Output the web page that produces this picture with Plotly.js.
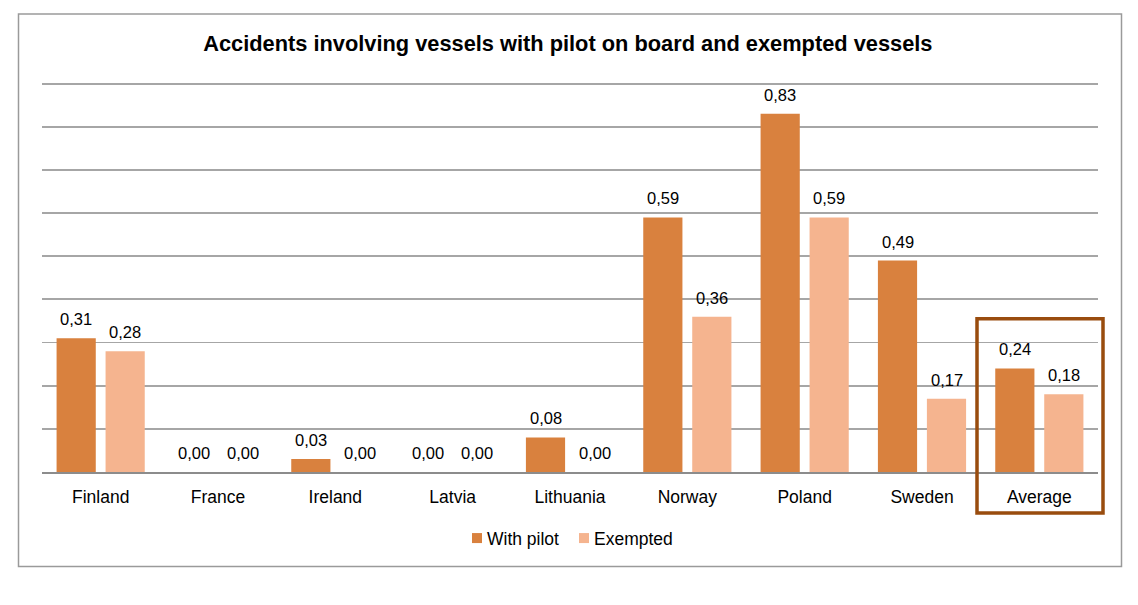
<!DOCTYPE html>
<html>
<head>
<meta charset="utf-8">
<script src="https://cdn.plot.ly/plotly-3.0.1.min.js"></script>
<style>
html,body{margin:0;padding:0;background:#ffffff;}
#chart{width:1138px;height:605px;}
</style>
</head>
<body>
<div id="chart"></div>
<script>
const categories = ["Finland","France","Ireland","Latvia","Lithuania","Norway","Poland","Sweden","Average"];
const withPilot = [0.31,0.00,0.03,0.00,0.08,0.59,0.83,0.49,0.24];
const exempted  = [0.28,0.00,0.00,0.00,0.00,0.36,0.59,0.17,0.18];
const seriesNames = ["With pilot","Exempted"];
const colors = ["#d9813e","#f5b48f"];

const fmt = v => v.toFixed(2).replace('.', ',');
const FONT = '"Liberation Sans", Arial, sans-serif';

const traces = [withPilot, exempted].map((vals, i) => ({
  type: 'bar',
  name: seriesNames[i],
  x: categories,
  y: vals,
  marker: {color: colors[i], line: {width: 0}},
  hoverinfo: 'x+y'
}));

const annotations = [];
[withPilot, exempted].forEach((vals, i) => {
  vals.forEach((v, j) => {
    annotations.push({
      x: categories[j], y: v, xref: 'x', yref: 'y',
      text: fmt(v), showarrow: false,
      xshift: i === 0 ? -24.5 : 24.5, yshift: 19,
      yanchor: 'middle', xanchor: 'center',
      font: {family: FONT, size: 16.5, color: '#000'}
    });
  });
});

// axis: gridlines every 0.1 up to 0.9; range padded so the 0.9 line is drawn
const YMAX = 0.92;
const PXU = 431.1;                 // pixels per unit
const L = 42, R = 1098, B = 472;
const T = B - YMAX * PXU;
const px = x => (x - L) / (R - L);
const py = y => (B - y) / (B - T);

const legendX = [472, 579];
const shapes = [
  {type: 'rect', xref: 'paper', yref: 'paper', layer: 'below',
   x0: px(18.5), x1: px(1121.5), y0: py(566.5), y1: py(14.5),
   line: {color: '#9a9a9a', width: 1.5}, fillcolor: '#ffffff'},
  {type: 'rect', xref: 'paper', yref: 'paper', layer: 'above',
   x0: px(977), x1: px(1103), y0: py(513), y1: py(319),
   line: {color: '#994c0e', width: 3.5}, fillcolor: 'rgba(0,0,0,0)'}
];
seriesNames.forEach((name, i) => {
  shapes.push({type: 'rect', xref: 'paper', yref: 'paper',
    x0: px(legendX[i]), x1: px(legendX[i] + 10), y0: py(543), y1: py(533),
    line: {width: 0}, fillcolor: colors[i]});
  annotations.push({xref: 'paper', yref: 'paper', x: px(legendX[i] + 13), y: py(538.5),
    xanchor: 'left', yanchor: 'middle', showarrow: false, text: name,
    font: {family: FONT, size: 17.5, color: '#000'}});
});

const layout = {
  width: 1138, height: 605,
  margin: {l: L, r: 1138 - R, t: T, b: 605 - B, pad: 0},
  paper_bgcolor: '#ffffff',
  plot_bgcolor: 'rgba(0,0,0,0)',
  font: {family: FONT, size: 17.5, color: '#000'},
  title: {
    text: '<b>Accidents involving vessels with pilot on board and exempted vessels</b>',
    font: {family: FONT, size: 21.8, color: '#000'},
    x: 0.499, xanchor: 'center', xref: 'container',
    y: 1 - 43.5 / 605, yanchor: 'middle', yref: 'container'
  },
  barmode: 'group',
  bargap: 0.165,
  bargroupgap: 0.2,
  showlegend: false,
  xaxis: {
    type: 'category',
    showgrid: false, zeroline: false,
    showline: true, linecolor: '#8c8c8c', linewidth: 2,
    ticks: '', ticklabelstandoff: 8,
    tickfont: {family: FONT, size: 17.5, color: '#000'},
    fixedrange: true
  },
  yaxis: {
    range: [0, YMAX], tickvals: [0.1,0.2,0.3,0.4,0.5,0.6,0.7,0.8,0.9],
    showgrid: true, gridcolor: '#a6a6a6', gridwidth: 1.8,
    showticklabels: false, zeroline: false, showline: false, ticks: '',
    fixedrange: true
  },
  annotations: annotations,
  shapes: shapes
};

Plotly.newPlot('chart', traces, layout, {displayModeBar: false, staticPlot: true});
</script>
</body>
</html>
